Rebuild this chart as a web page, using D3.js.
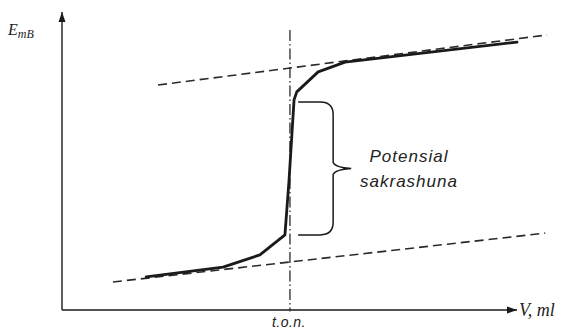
<!DOCTYPE html>
<html>
<head>
<meta charset="utf-8">
<script src="https://cdn.jsdelivr.net/npm/d3@7"></script>
<style>
  body { margin: 0; background: #fff; }
</style>
</head>
<body>
<script>
// Titration curve (schematic, no ticks): volume vs potential
let curveV = [18.5, 35.4, 43.5, 49.0, 49.9, 51.0, 51.6, 56.3, 62.2, 100];
let curveE = [11.1, 14.4, 18.5, 25.2, 43.6, 70.5, 73.2, 79.9, 83.2, 89.9];

// tangent (dashed) lines: [v1, e1, v2, e2]
let upperTangent = [21.1, 75.5, 106.6, 92.3];
let lowerTangent = [11.2, 9.4, 106.2, 25.8];

// equivalence point
let eqV = 50.1;
let eqRange = [-0.5, 94];

// potential jump brace
let braceE = [69.8, 25.2];
let braceV = 51.9;

let labels = {
  y: "E",
  ySub: "mB",
  x: "V, ml",
  eq: "t.o.n.",
  jump: ["Potensial", "sakrashuna"],
};

let w = 568;
let h = 330;

let xScale = d3.scaleLinear().domain([0, 100]).range([62, 517]);
let yScale = d3.scaleLinear().domain([0, 100]).range([310, 12]);

let svg = d3.select("body").append("svg").attr("width", w).attr("height", h);

let ink = "#1a1a1a";

// arrow markers
let defs = svg.append("defs");
defs
  .append("marker")
  .attr("id", "arrow")
  .attr("viewBox", "0 0 10 10")
  .attr("refX", 10)
  .attr("refY", 5)
  .attr("markerWidth", 10)
  .attr("markerHeight", 10)
  .attr("markerUnits", "userSpaceOnUse")
  .attr("orient", "auto")
  .append("path")
  .attr("d", "M0,1.5 L10,5 L0,8.5 Z")
  .attr("fill", ink);

// axes
svg
  .append("line")
  .attr("x1", xScale(0))
  .attr("y1", yScale(0))
  .attr("x2", xScale(0))
  .attr("y2", yScale(100))
  .attr("stroke", ink)
  .attr("stroke-width", 1.4)
  .attr("marker-end", "url(#arrow)");

svg
  .append("line")
  .attr("x1", xScale(0))
  .attr("y1", yScale(0))
  .attr("x2", xScale(100))
  .attr("y2", yScale(0))
  .attr("stroke", ink)
  .attr("stroke-width", 1.4)
  .attr("marker-end", "url(#arrow)");

// tangent lines
[upperTangent, lowerTangent].forEach((t) => {
  svg
    .append("line")
    .attr("x1", xScale(t[0]))
    .attr("y1", yScale(t[1]))
    .attr("x2", xScale(t[2]))
    .attr("y2", yScale(t[3]))
    .attr("stroke", "#2a2a2a")
    .attr("stroke-width", 1.6)
    .attr("stroke-dasharray", "9,5");
});

// equivalence point line (dash-dot)
svg
  .append("line")
  .attr("x1", xScale(eqV))
  .attr("y1", yScale(eqRange[1]))
  .attr("x2", xScale(eqV))
  .attr("y2", yScale(eqRange[0]))
  .attr("stroke", "#2a2a2a")
  .attr("stroke-width", 1.3)
  .attr("stroke-dasharray", "11,3,1.5,3");

// titration curve
let line = d3
  .line()
  .x((d) => xScale(d[0]))
  .y((d) => yScale(d[1]));

svg
  .append("path")
  .datum(d3.zip(curveV, curveE))
  .attr("d", line)
  .attr("fill", "none")
  .attr("stroke", ink)
  .attr("stroke-width", 2.8)
  .attr("stroke-linejoin", "round")
  .attr("stroke-linecap", "round");

// brace
let bx = xScale(braceV);
let yTop = yScale(braceE[0]);
let yBot = yScale(braceE[1]);
let yMid = (yTop + yBot) / 2;
let bxLine = bx + 35;
let r = 8;
let tip = bx + 53;
let bracePath = d3.path();
bracePath.moveTo(bx, yTop);
bracePath.lineTo(bxLine - r * 1.6, yTop);
bracePath.quadraticCurveTo(bxLine, yTop, bxLine, yTop + r * 1.6);
bracePath.lineTo(bxLine, yMid - 6);
bracePath.quadraticCurveTo(bxLine + 2, yMid - 1, tip, yMid);
bracePath.quadraticCurveTo(bxLine + 2, yMid + 1, bxLine, yMid + 6);
bracePath.lineTo(bxLine, yBot - r * 1.6);
bracePath.quadraticCurveTo(bxLine, yBot, bxLine - r * 1.6, yBot);
bracePath.lineTo(bx, yBot);

svg
  .append("path")
  .attr("d", bracePath.toString())
  .attr("fill", "none")
  .attr("stroke", ink)
  .attr("stroke-width", 1.5);

// jump label
let jump = svg
  .append("text")
  .attr("font-family", "'Liberation Sans Narrow', 'Liberation Sans', sans-serif")
  .attr("font-style", "italic")
  .attr("font-size", "17px")
  .attr("letter-spacing", "1px")
  .attr("fill", "#222")
  .attr("text-anchor", "middle");
jump
  .selectAll("tspan")
  .data(labels.jump)
  .enter()
  .append("tspan")
  .attr("x", 409)
  .attr("y", (d, i) => 162 + i * 25)
  .text((d) => d);

// axis labels
let yl = svg
  .append("text")
  .attr("x", 8)
  .attr("y", 35)
  .attr("font-family", "'Liberation Serif', serif")
  .attr("font-style", "italic")
  .attr("font-size", "16px")
  .attr("fill", "#222");
yl.append("tspan").text(labels.y);
yl.append("tspan")
  .attr("font-size", "12px")
  .attr("dy", 3)
  .text(labels.ySub);

svg
  .append("text")
  .attr("x", 519)
  .attr("y", 316)
  .attr("font-family", "'Liberation Serif', serif")
  .attr("font-style", "italic")
  .attr("font-size", "18px")
  .attr("fill", "#222")
  .text(labels.x);

svg
  .append("text")
  .attr("x", xScale(eqV) - 1)
  .attr("y", 327)
  .attr("text-anchor", "middle")
  .attr("font-family", "'Liberation Sans Narrow', 'Liberation Sans', sans-serif")
  .attr("font-style", "italic")
  .attr("font-size", "14px")
  .attr("letter-spacing", "0.5px")
  .attr("fill", "#222")
  .text(labels.eq);
</script>
</body>
</html>
